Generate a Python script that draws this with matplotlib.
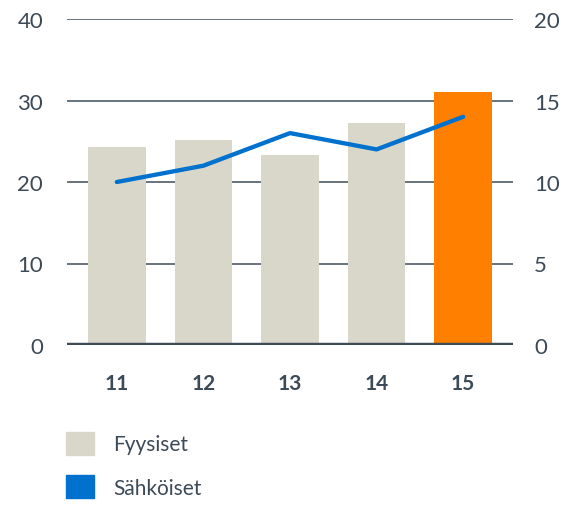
import matplotlib.pyplot as plt
from matplotlib.patches import Patch
import numpy as np

plt.rcParams['font.family'] = ['Lato', 'DejaVu Sans']

# vuodet ja arvot
years = ['11', '12', '13', '14', '15']
fyysiset = [24.3, 25.1, 23.3, 27.2, 31.1]
sahkoiset = [10, 11, 13, 12, 14]
left_ticks = [0, 10, 20, 30, 40]
right_ticks = [0, 5, 10, 15, 20]

text_col = '#3b4a56'
grey = '#d9d7ca'
orange = '#ff8000'
blue = '#0072ce'

fig = plt.figure(figsize=(5.74, 5.06), dpi=100)
ax = fig.add_axes([66.7/574, 1 - 346/506, 446.6/574, 326/506])
x = np.arange(len(years))

colors = [grey] * (len(years) - 1) + [orange]
ax.bar(x, fyysiset, width=0.667, color=colors, zorder=2)

ax.set_ylim(0, 40)
ax.set_xlim(-0.579, len(years) - 1 + 0.579)
ax.set_yticks(left_ticks)
ax.set_xticks(x)
ax.set_xticklabels(years, fontweight='bold')
for t in left_ticks[1:]:
    ax.axhline(t, color='#5c6873', lw=1.3, zorder=1)
ax.axhline(0, color='#3e4c57', lw=3.2, zorder=3)

for s in ax.spines.values():
    s.set_visible(False)
ax.tick_params(axis='y', length=0, pad=17, labelsize=16, labelcolor=text_col)
ax.tick_params(axis='x', length=0, pad=20, labelsize=15, labelcolor=text_col)

ax2 = ax.twinx()
ax2.plot(x, sahkoiset, color=blue, lw=3.1, solid_capstyle='round', zorder=4)
ax2.set_ylim(0, 20)
ax2.set_yticks(right_ticks)
for s in ax2.spines.values():
    s.set_visible(False)
ax2.tick_params(axis='y', length=0, pad=15, labelsize=16, labelcolor=text_col)

handles = [Patch(color=grey), Patch(color=blue)]
fig.legend(handles, ['Fyysiset', 'Sähköiset'], loc='upper left',
           bbox_to_anchor=(66/574, 1 - 432.7/506), frameon=False,
           fontsize=15, labelcolor=text_col, handlelength=1.35,
           handleheight=1.35, handletextpad=0.93, labelspacing=0.95,
           borderpad=0, borderaxespad=0)

fig.savefig('out.png', dpi=100)
